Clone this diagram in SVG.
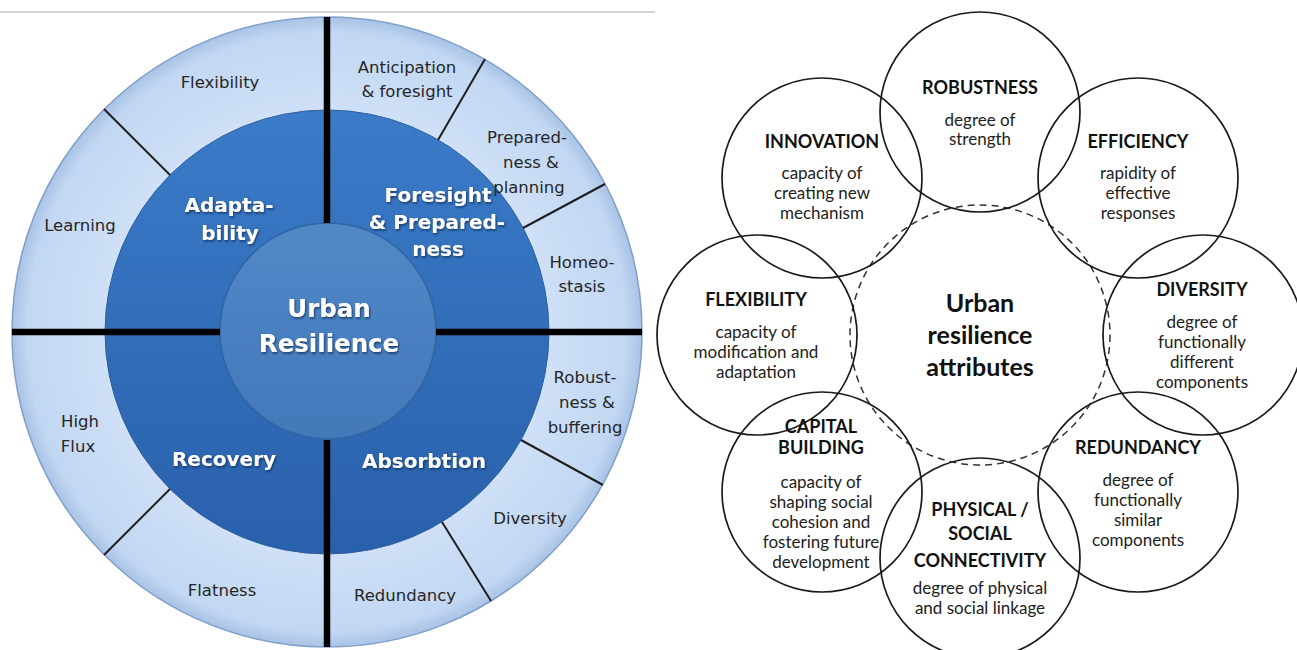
<svg xmlns="http://www.w3.org/2000/svg" width="1297" height="650" viewBox="0 0 1297 650">
<defs>
<style>
.lt{font-family:"DejaVu Sans",Verdana,sans-serif;font-size:16.5px;fill:#262626;text-anchor:middle}
.wb{font-family:"DejaVu Sans",Verdana,sans-serif;font-weight:bold;font-size:20px;fill:#ffffff;text-anchor:middle}
.cb{font-family:"DejaVu Sans",Verdana,sans-serif;font-weight:bold;font-size:24.5px;fill:#ffffff;text-anchor:middle}
.div{stroke:#1e1e1e;stroke-width:2}
.thick{stroke:#000;stroke-width:6.5}
.circ{fill:none;stroke:#1a1a1a;stroke-width:1.7}
.ttl{font-family:Lato,"Liberation Sans",sans-serif;font-weight:bold;font-size:18px;fill:#111;text-anchor:middle}
.dsc{font-family:Lato,"Liberation Sans",sans-serif;font-size:17px;fill:#222;text-anchor:middle}
.ctr{font-family:Lato,"Liberation Sans",sans-serif;font-weight:bold;font-size:25px;fill:#111;text-anchor:middle}
</style>
<radialGradient id="gOuter" cx="327" cy="332" r="315" gradientUnits="userSpaceOnUse">
<stop offset="0.7" stop-color="#cfe0f7"/>
<stop offset="0.95" stop-color="#c2d7f2"/>
<stop offset="1" stop-color="#a9c3e6"/>
</radialGradient>
<linearGradient id="gMid" x1="0" y1="0" x2="0" y2="1">
<stop offset="0" stop-color="#3b7bc8"/>
<stop offset="1" stop-color="#2960ab"/>
</linearGradient>
<linearGradient id="gIn" x1="0" y1="0" x2="0" y2="1">
<stop offset="0" stop-color="#5088c8"/>
<stop offset="1" stop-color="#4378b9"/>
</linearGradient>
<filter id="sh" x="-10%" y="-10%" width="120%" height="130%">
<feDropShadow dx="1" dy="1.5" stdDeviation="0.8" flood-color="#0a2550" flood-opacity="0.8"/>
</filter>
</defs>
<rect width="1297" height="650" fill="#ffffff"/>
<line x1="0" y1="12" x2="655" y2="12" stroke="#c4c4c4" stroke-width="1.5"/>

<g id="left-wheel">
<circle cx="327" cy="332" r="315" fill="url(#gOuter)" stroke="#7f9fcb" stroke-width="1.5"/>
<circle cx="327" cy="332" r="222" fill="url(#gMid)" stroke="#2d5f9f" stroke-width="1"/>
<circle cx="328" cy="331" r="108" fill="url(#gIn)" stroke="#30649f" stroke-width="1.5"/>
<line class="div" x1="170" y1="175" x2="104" y2="109"/>
<line class="div" x1="438" y1="140" x2="485" y2="59"/>
<line class="div" x1="523" y1="228" x2="605" y2="184"/>
<line class="div" x1="521" y1="440" x2="603" y2="485"/>
<line class="div" x1="442" y1="522" x2="491" y2="601"/>
<line class="div" x1="170" y1="489" x2="104" y2="555"/>
<line class="thick" x1="327" y1="17" x2="327" y2="223"/>
<line class="thick" x1="327" y1="440" x2="327" y2="647"/>
<line class="thick" x1="12" y1="332" x2="220" y2="332"/>
<line class="thick" x1="436" y1="332" x2="642" y2="332"/>
</g>

<g id="left-labels">
<text class="lt" x="220" y="88">Flexibility</text>
<text class="lt" x="80" y="231">Learning</text>
<text class="lt" x="407" y="73">Anticipation</text>
<text class="lt" x="407" y="97">&amp; foresight</text>
<text class="lt" x="527" y="143">Prepared-</text>
<text class="lt" x="531" y="168">ness &amp;</text>
<text class="lt" x="529" y="193">planning</text>
<text class="lt" x="582" y="268">Homeo-</text>
<text class="lt" x="582" y="292">stasis</text>
<text class="lt" x="585" y="383">Robust-</text>
<text class="lt" x="587" y="408">ness &amp;</text>
<text class="lt" x="585" y="433">buffering</text>
<text class="lt" x="80" y="427">High</text>
<text class="lt" x="78" y="452">Flux</text>
<text class="lt" x="530" y="524">Diversity</text>
<text class="lt" x="222" y="596">Flatness</text>
<text class="lt" x="405" y="601">Redundancy</text>
<g filter="url(#sh)">
<text class="wb" x="229" y="212">Adapta-</text>
<text class="wb" x="230" y="240">bility</text>
<text class="wb" x="438" y="202">Foresight</text>
<text class="wb" x="437" y="229">&amp; Prepared-</text>
<text class="wb" x="438" y="256">ness</text>
<text class="wb" x="224" y="466">Recovery</text>
<text class="wb" x="424" y="468">Absorbtion</text>
<text class="cb" x="329" y="317">Urban</text>
<text class="cb" x="329" y="352">Resilience</text>
</g>
</g>

<g id="connectors">
<circle cx="980" cy="335" r="130" fill="none" stroke="#333" stroke-width="1.5" stroke-dasharray="7 5"/>
</g>

<g id="center">
<text class="ctr" x="980" y="312">Urban</text>
<text class="ctr" x="980" y="344">resilience</text>
<text class="ctr" x="980" y="376">attributes</text>
</g>

<g id="robustness">
<circle class="circ" cx="980" cy="112" r="100"/>
<text class="ttl" x="980" y="94">ROBUSTNESS</text>
<text class="dsc" x="980" y="126">degree of</text>
<text class="dsc" x="980" y="145">strength</text>
</g>
<g id="innovation">
<circle class="circ" cx="822" cy="178" r="100"/>
<text class="ttl" x="822" y="148">INNOVATION</text>
<text class="dsc" x="822" y="179">capacity of</text>
<text class="dsc" x="822" y="199">creating new</text>
<text class="dsc" x="822" y="219">mechanism</text>
</g>
<g id="efficiency">
<circle class="circ" cx="1138" cy="178" r="100"/>
<text class="ttl" x="1138" y="148">EFFICIENCY</text>
<text class="dsc" x="1138" y="179">rapidity of</text>
<text class="dsc" x="1138" y="199">effective</text>
<text class="dsc" x="1138" y="219">responses</text>
</g>
<g id="flexibility">
<circle class="circ" cx="757" cy="335" r="100"/>
<text class="ttl" x="756" y="306">FLEXIBILITY</text>
<text class="dsc" x="756" y="338">capacity of</text>
<text class="dsc" x="756" y="358">modification and</text>
<text class="dsc" x="756" y="378">adaptation</text>
</g>
<g id="diversity">
<circle class="circ" cx="1203" cy="335" r="100"/>
<text class="ttl" x="1202" y="296">DIVERSITY</text>
<text class="dsc" x="1202" y="328">degree of</text>
<text class="dsc" x="1202" y="348">functionally</text>
<text class="dsc" x="1202" y="368">different</text>
<text class="dsc" x="1202" y="388">components</text>
</g>
<g id="capital-building">
<circle class="circ" cx="822" cy="492" r="100"/>
<text class="ttl" x="821" y="433">CAPITAL</text>
<text class="ttl" x="821" y="454">BUILDING</text>
<text class="dsc" x="821" y="488">capacity of</text>
<text class="dsc" x="821" y="508">shaping social</text>
<text class="dsc" x="821" y="528">cohesion and</text>
<text class="dsc" x="821" y="548">fostering future</text>
<text class="dsc" x="821" y="568">development</text>
</g>
<g id="redundancy">
<circle class="circ" cx="1138" cy="492" r="100"/>
<text class="ttl" x="1138" y="454">REDUNDANCY</text>
<text class="dsc" x="1138" y="486">degree of</text>
<text class="dsc" x="1138" y="506">functionally</text>
<text class="dsc" x="1138" y="526">similar</text>
<text class="dsc" x="1138" y="546">components</text>
</g>
<g id="physical-social-connectivity">
<circle class="circ" cx="980" cy="558" r="100"/>
<text class="ttl" x="980" y="516">PHYSICAL /</text>
<text class="ttl" x="980" y="540">SOCIAL</text>
<text class="ttl" x="980" y="567">CONNECTIVITY</text>
<text class="dsc" x="980" y="594">degree of physical</text>
<text class="dsc" x="980" y="614">and social linkage</text>
</g>
</svg>
